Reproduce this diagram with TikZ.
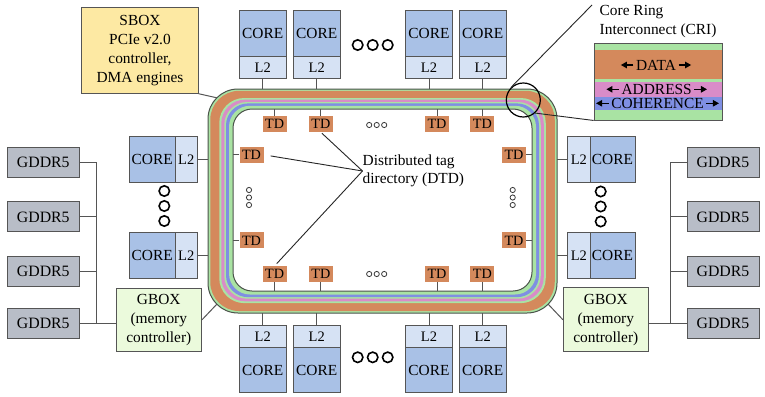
\documentclass[tikz,border=0pt]{standalone}
\usepackage{fontspec}
\setmainfont{Liberation Serif}
\usetikzlibrary{arrows.meta}
\definecolor{rgreen}{HTML}{A9E3A3}
\definecolor{rorange}{HTML}{D4895C}
\definecolor{rpink}{HTML}{D98CC8}
\definecolor{rblue}{HTML}{7F8FE3}
\definecolor{ringline}{HTML}{4A524A}
\definecolor{tdfill}{HTML}{D4895C}
\definecolor{corefill}{HTML}{A9C1E6}
\definecolor{lfill}{HTML}{D6E2F4}
\definecolor{gfill}{HTML}{B8BDC7}
\definecolor{gboxfill}{HTML}{EBFADC}
\definecolor{sboxfill}{HTML}{FDE9A3}
\definecolor{boxline}{HTML}{555555}
\newcommand{\fsz}[1]{\fontsize{#1}{19}\selectfont}
\newcommand{\ringlayer}[3]{%
  \fill[#2, rounded corners=#3pt] ({208+25*#1},{89+20*#1}) rectangle ({557-25*#1},{313-22*#1});}
\tikzset{
  box/.style={draw=boxline, line width=0.9pt, inner sep=0pt},
  corebox/.style={box, fill=corefill, font=\fsz{15.4}},
  ltwobox/.style={box, fill=lfill, font=\fsz{14.5}},
  tdbox/.style={fill=tdfill, inner sep=0pt, minimum width=24pt, minimum height=16pt, font=\fsz{14.2}},
  gddr/.style={box, fill=gfill, minimum width=72pt, minimum height=30pt, font=\fsz{15.8}},
  gbox/.style={box, fill=gboxfill, align=center, font=\fsz{15.4}},
  conn/.style={draw=boxline, line width=1pt},
  thinline/.style={draw=black!85, line width=0.9pt},
  bigdot/.style={draw=black, line width=1.6pt},
  smalldot/.style={draw=black!80, line width=0.8pt},
  legarrow/.style={line width=1pt, -{Triangle[length=6pt,width=6.5pt]}},
  plain/.style={inner sep=0pt, font=\fsz{15.4}}
}
\begin{document}
\begin{tikzpicture}[x=1pt,y=-1pt]
\useasboundingbox (0,0) rectangle (765,396);
% ---------- ring ----------
\ringlayer{0}{rgreen}{30}
\ringlayer{0.09}{rorange}{29}
\ringlayer{0.45}{rgreen}{25}
\ringlayer{0.53}{rpink}{24}
\ringlayer{0.65}{rgreen}{23}
\ringlayer{0.72}{rblue}{22}
\ringlayer{0.84}{rgreen}{21}
\ringlayer{1}{white}{19}
\draw[ringline, line width=1pt, rounded corners=30pt] (208,89) rectangle (557,313);
\draw[ringline, line width=1pt, rounded corners=19pt] (233,109) rectangle (532,291);
\node[inner sep=0pt, minimum width=349pt, minimum height=224pt] (ringout) at (382.5,201) {};
\node[inner sep=0pt, minimum width=299pt, minimum height=182pt] (ringin) at (382.5,200) {};
\coordinate (ringtl) at (216.8,97.8);
\coordinate (ringbl) at (216.8,304.2);
\coordinate (ringbr) at (548.2,304.2);
% ---------- top and bottom cores ----------
\foreach \x [count=\i] in {262.7,316.7,429,482.7} {
  \node[corebox, minimum width=46.7pt, minimum height=46pt] (tc\i) at (\x,33) {CORE};
  \node[ltwobox, minimum width=46.7pt, minimum height=22.3pt] (tl\i) at (\x,67.2) {L2};
  \draw[conn] (tl\i.south) -- (tl\i.south |- ringout.north);
  \node[ltwobox, minimum width=46.7pt, minimum height=22.3pt] (bl\i) at (\x,336.2) {L2};
  \node[corebox, minimum width=46.7pt, minimum height=45.4pt] (bc\i) at (\x,370) {CORE};
  \draw[conn] (bl\i.north) -- (bl\i.north |- ringout.south);
}
% ---------- top and bottom TDs ----------
\foreach \x [count=\i] in {274.7,320.8,437,482.3} {
  \node[tdbox] (tt\i) at (\x,124) {TD};
  \draw[conn] (tt\i.north) -- (tt\i.north |- ringin.north);
  \node[tdbox] (bt\i) at (\x,274) {TD};
  \draw[conn] (bt\i.south) -- (bt\i.south |- ringin.south);
}
% ---------- side cores ----------
\foreach \y [count=\i] in {159.2,255.3} {
  \node[corebox, minimum width=45.7pt, minimum height=46.3pt] (lc\i) at (152.2,\y) {CORE};
  \node[ltwobox, minimum width=22.3pt, minimum height=46.3pt] (ll\i) at (186.2,\y) {L2};
  \draw[conn] (ll\i.east) -- (ll\i.east -| ringout.west);
  \node[ltwobox, minimum width=22.3pt, minimum height=46.3pt] (rl\i) at (578.8,\y) {L2};
  \node[corebox, minimum width=45pt, minimum height=46.3pt] (rc\i) at (612.5,\y) {CORE};
  \draw[conn] (rl\i.west) -- (rl\i.west -| ringout.east);
}
% ---------- side TDs ----------
\foreach \y [count=\i] in {154.8,240.4} {
  \node[tdbox] (lt\i) at (251.5,\y) {TD};
  \draw[conn] (lt\i.west) -- (lt\i.west -| ringin.west);
  \node[tdbox] (rt\i) at (514,\y) {TD};
  \draw[conn] (rt\i.east) -- (rt\i.east -| ringin.east);
}
% ---------- ellipses ----------
\foreach \d in {-15,0,15} {
  \draw[bigdot] ({372.7+\d},45) circle (5.2pt);
  \draw[bigdot] ({372.7+\d},357.3) circle (5.2pt);
  \draw[bigdot] (164.3,{206+\d}) circle (5.2pt);
  \draw[bigdot] (600.7,{206.5+\d}) circle (5.2pt);
}
\foreach \d in {-7.5,0,7.5} {
  \draw[smalldot] ({376.7+\d},125) circle (2.6pt);
  \draw[smalldot] ({376.7+\d},274) circle (2.6pt);
  \draw[smalldot] (249,{197.5+\d}) circle (2.6pt);
  \draw[smalldot] (512.7,{197.5+\d}) circle (2.6pt);
}
% ---------- DTD label ----------
\node[plain, anchor=west, align=left, font=\fontsize{15.4}{18.4}\selectfont] (dtd) at (362.5,171) {Distributed tag\\directory (DTD)};
\draw[thinline, shorten >=1.5pt] (dtd.west) -- (tt2.south);
\draw[thinline, shorten >=7pt] (dtd.west) -- (lt1.east);
\draw[thinline, shorten >=3pt] (dtd.west) -- (bt1.north);
% ---------- SBOX ----------
\node[box, fill=sboxfill, align=center, font=\fsz{15.4}, minimum width=116.6pt, minimum height=86pt] (sbox) at (140,50.3) {SBOX\\PCIe v2.0\\controller,\\DMA engines};
\draw[conn] (sbox.south east) -- (ringtl);
% ---------- GBOXes ----------
\node[gbox, minimum width=85.7pt, minimum height=62.7pt] (gboxl) at (158.8,319.7) {GBOX\\(memory\\controller)};
\node[gbox, minimum width=85pt, minimum height=64pt] (gboxr) at (605.8,319.7) {GBOX\\(memory\\controller)};
\draw[conn] (gboxl.east) -- (ringbl);
\draw[conn] (gboxr.west) -- (ringbr);
% ---------- GDDR5 ----------
\coordinate (busl) at (96.7,0);
\coordinate (busr) at (670,0);
\foreach \y [count=\i] in {162.8,216.9,271,323.6} {
  \node[gddr] (gl\i) at (43.3,\y) {GDDR5};
  \node[gddr] (gr\i) at (723,\y) {GDDR5};
  \draw[conn] (gl\i.east) -- (gl\i.east -| busl);
  \draw[conn] (gr\i.west) -- (gr\i.west -| busr);
}
\draw[conn] (gl1.east -| busl) -- (gl4.east -| busl);
\draw[conn] (gr1.west -| busr) -- (gr4.west -| busr);
\draw[conn] (gl4.east) -- (gl4.east -| gboxl.west);
\draw[conn] (gr4.west) -- (gr4.west -| gboxr.east);
% ---------- CRI legend ----------
\fill[rgreen] (594,43) rectangle (722,120);
\fill[rorange] (594,50) rectangle (722,79.3);
\fill[rpink] (594,82) rectangle (722,96.7);
\fill[rblue] (594,96.7) rectangle (722,110);
\node[draw=boxline, line width=0.9pt, inner sep=0pt, minimum width=128pt, minimum height=77pt] (legend) at (658,81.5) {};
\node[plain] (ldata) at (656,65) {DATA};
\node[plain] (laddr) at (656.7,89.3) {ADDRESS};
\node[plain] (lcoh) at (657.5,103.3) {COHERENCE};
\foreach \n in {ldata,laddr,lcoh} {
  \draw[legarrow] ([xshift=-2.5pt]\n.west) -- ++(-12.5,0);
  \draw[legarrow] ([xshift=2.5pt]\n.east) -- ++(12.5,0);
}
\node[plain, anchor=west, align=left] (cri) at (599.5,21.5) {Core Ring\\Interconnect (CRI)};
\node[circle, draw=black, line width=1.2pt, minimum size=34pt, inner sep=0pt] (mag) at (523.3,100) {};
\coordinate (crip) at (592,5);
\draw[thinline] (mag.135) -- (crip);
\draw[thinline] (mag.-48) -- (legend.south west);
\end{tikzpicture}
\end{document}
